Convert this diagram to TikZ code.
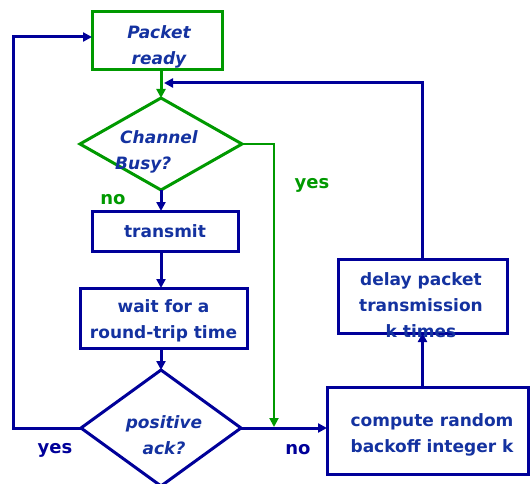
\documentclass[tikz,border=0pt]{standalone}
\usepackage{fontspec}
\setmainfont{DejaVu Sans}
\usetikzlibrary{shapes.geometric,arrows.meta}
\definecolor{lb}{RGB}{0,0,153}
\definecolor{tb}{RGB}{20,50,160}
\definecolor{gr}{RGB}{0,153,0}
\begin{document}
\begin{tikzpicture}[x=1pt,y=-1pt,
  txt/.style={font=\fontsize{17}{26}\selectfont\bfseries,text=tb,align=center},
  itxt/.style={txt,font=\fontsize{17}{26}\selectfont\bfseries\itshape},
  box/.style={rectangle,draw=lb,line width=3pt,inner sep=0pt,outer sep=0pt,txt},
  gbox/.style={box,draw=gr},
  dia/.style={diamond,draw=lb,line width=3pt,inner sep=0pt,outer sep=0pt},
  gdia/.style={dia,draw=gr},
  tip/.style={-{Triangle[length=9pt,width=9pt]}},
  bline/.style={draw=lb,line width=3pt,tip},
  gline/.style={draw=gr,line width=3pt,tip},
  gthin/.style={draw=gr,line width=2pt,tip},
  blab/.style={font=\fontsize{18}{20}\selectfont\bfseries,text=lb},
  glab/.style={font=\fontsize{18}{20}\selectfont\bfseries,text=gr}]
\useasboundingbox (0,0) rectangle (530,484);
\node[gbox,minimum width=130pt,minimum height=58pt] (pr) at (157,41) {};
\node[itxt] (prt) at (159,47) {Packet\\ready};
\node[gdia,minimum width=162pt,minimum height=92pt] (cb) at (161,144) {};
\node[itxt,align=left] (cbt) at (159,152) {Channel\\[-0.5pt]\hspace*{-5pt}Busy?};
\node[box,minimum width=146pt,minimum height=40pt] (tx) at (165,231) {transmit};
\node[box,minimum width=167pt,minimum height=60pt] (wt) at (163.5,318) {};
\node[txt] (wtt) at (163.5,321) {wait for a\\round-trip time};
\node[dia,minimum width=160pt,minimum height=116pt] (pa) at (161,428) {};
\node[itxt] (pat) at (164,435) {positive\\ack?};
\node[box,minimum width=201pt,minimum height=87pt] (cp) at (427.5,430.5) {};
\node[txt] (cpt) at (432,435) {compute random\\backoff integer k};
\node[box,minimum width=169pt,minimum height=74pt] (dl) at (422.5,296) {};
\coordinate (ret) at (164,83);
\coordinate (yesend) at (274,427);
\coordinate (lc) at (13,37);
\node[glab] (gno) at (113,200) {no};
\node[glab] (gyes) at (312,185) {yes};
\node[blab] (byes) at (55,450) {yes};
\node[blab] (bno) at (298,450) {no};
\draw[gline] (pr.south -| cb.north) -- (cb.north);
\draw[bline] (dl.north -| dl.south) |- (ret);
\draw[gthin] (cb.east) -| (yesend);
\draw[bline] (cb.south) -- (cb.south |- tx.north);
\draw[bline] (cb.south |- tx.south) -- (cb.south |- wt.north);
\draw[bline] (cb.south |- wt.south) -- (pa.north);
\draw[bline] (pa.east) -- (pa.east -| cp.west);
\draw[bline] (pa.west) -| (lc) -- (lc -| pr.west);
\draw[bline] (dl.south |- cp.north) -- (dl.south);
\node[txt] (dlt) at (421,305) {delay packet\\transmission\\k times};
\end{tikzpicture}
\end{document}
